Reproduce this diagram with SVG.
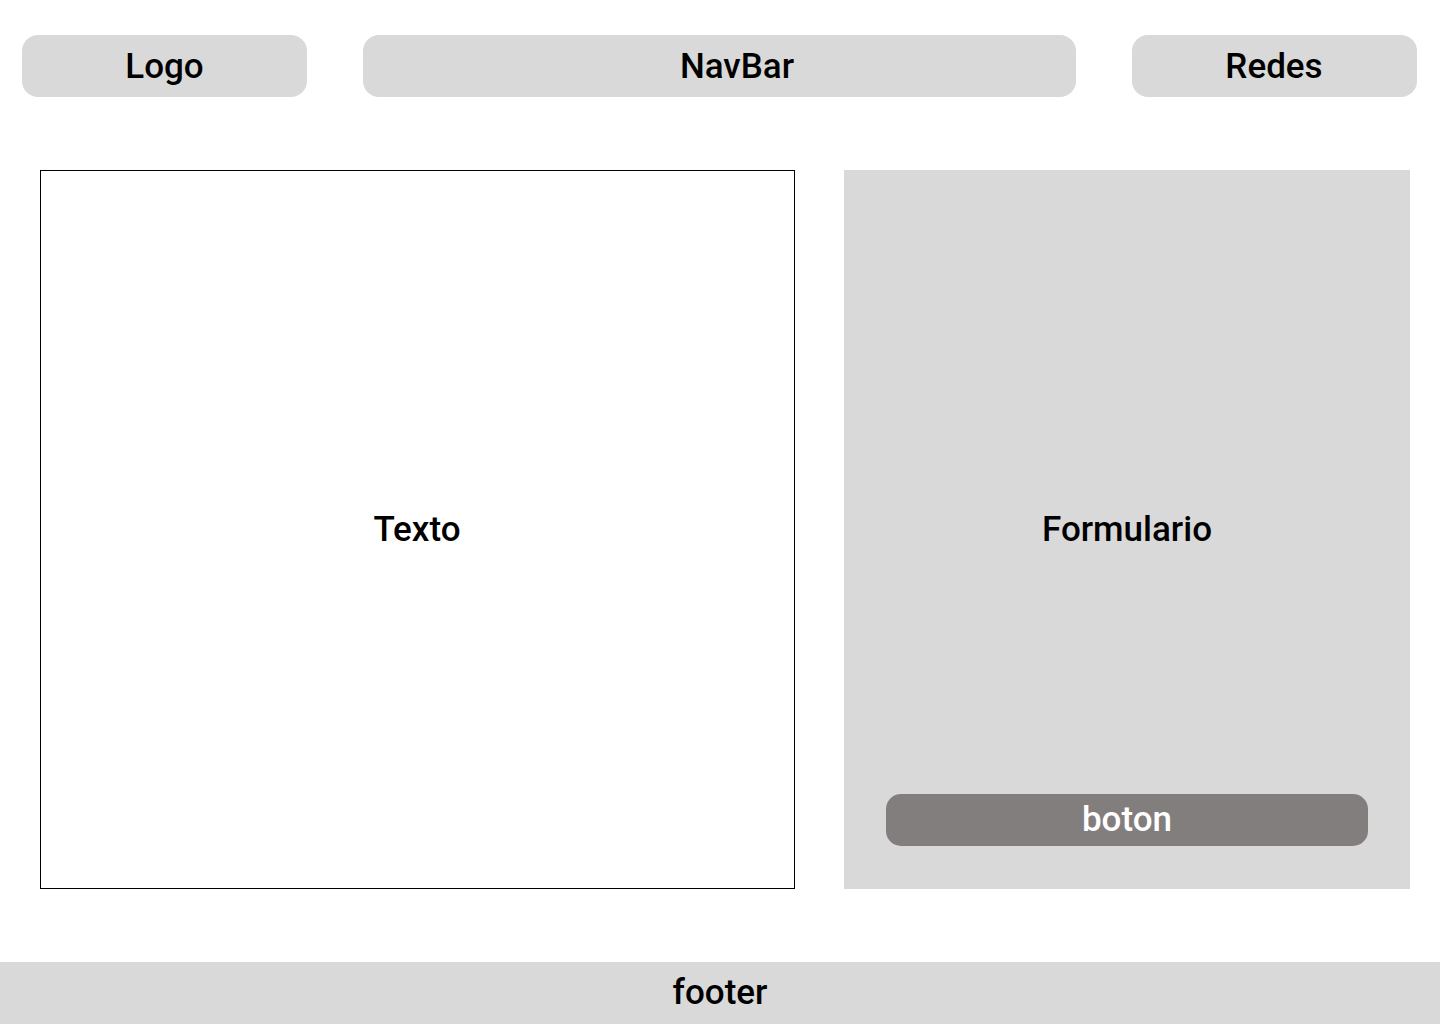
<svg xmlns="http://www.w3.org/2000/svg" width="1440" height="1024" viewBox="0 0 1440 1024">
<style>
.box{fill:#d9d9d9}
.t{font-family:Roboto,"Liberation Sans",sans-serif;font-size:35px;font-weight:500;fill:#000;text-anchor:middle}
.w{fill:#fff}
</style>
<rect width="1440" height="1024" fill="#fff"/>
<g id="logo"><rect class="box" x="22" y="35" width="285" height="62" rx="16"/><text class="t" x="164.5" y="78">Logo</text></g>
<g id="navbar"><rect class="box" x="363" y="35" width="713" height="62" rx="16"/><text class="t" x="737" y="78">NavBar</text></g>
<g id="redes"><rect class="box" x="1132" y="35" width="285" height="62" rx="16"/><text class="t" x="1274" y="78">Redes</text></g>
<g id="texto"><rect x="40.5" y="170.5" width="754" height="718" fill="#fff" stroke="#000" stroke-width="1"/><text class="t" x="417" y="541">Texto</text></g>
<g id="formulario"><rect class="box" x="844" y="170" width="566" height="719"/><text class="t" x="1127" y="541">Formulario</text></g>
<g id="boton"><rect x="886" y="794" width="482" height="52" rx="15" fill="#837e7e"/><text class="t w" x="1127" y="831">boton</text></g>
<g id="footer"><rect class="box" x="0" y="962" width="1440" height="62"/><text class="t" x="720" y="1004">footer</text></g>
<g id="connectors"/>
</svg>
